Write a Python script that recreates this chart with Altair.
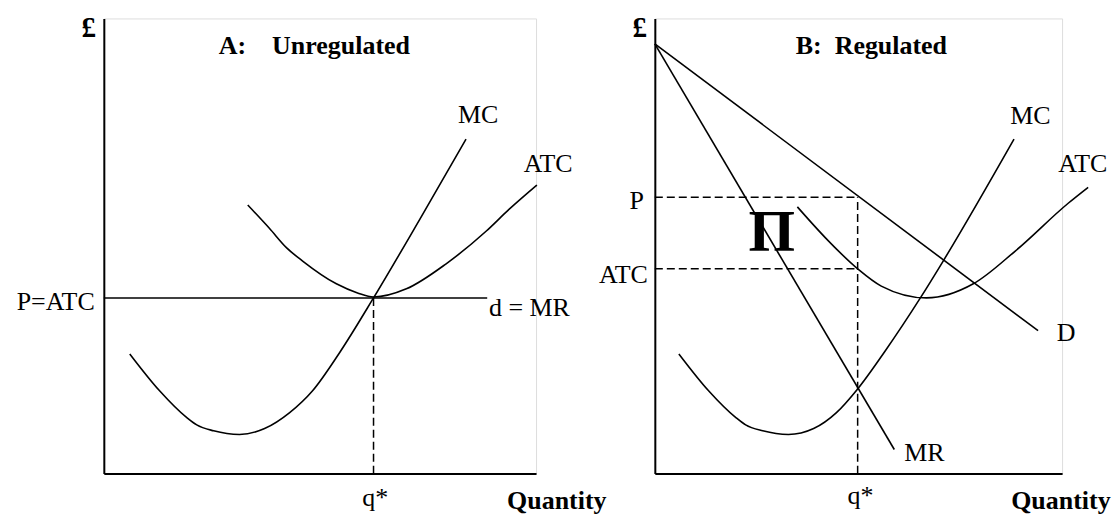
import altair as alt
import pandas as pd

FONT = "Liberation Serif"

# ---------------- Panel A : Unregulated ----------------
A_MC_Q = [6.0, 12.9, 19.2, 21.5, 25.4, 31.4, 37.2, 43.0, 48.3, 54.5, 62.4, 73.0, 83.8]
A_MC_P = [26.3, 18.2, 12.3, 10.7, 9.4, 8.6, 9.9, 13.4, 18.2, 26.5, 38.6, 55.7, 73.5]
A_ATC_Q = [33.3, 38.3, 42.3, 46.0, 53.8, 58.7, 62.4, 70.0, 79.2, 88.5, 93.8, 100.2]
A_ATC_P = [59.0, 53.9, 49.6, 46.7, 41.7, 39.7, 38.8, 40.6, 46.1, 53.3, 58.1, 63.4]
A_PRICE = 38.6          # P = ATC = d = MR
A_QSTAR = 62.4
A_DMR_END = 88.7

A_TXT = ["MC", "ATC", "q*"]
A_TXT_Q = [86.6, 102.8, 62.8]
A_TXT_P = [78.7, 68.0, -5.3]
A_LEFT_TXT = ["d = MR"]
A_LEFT_Q = [89.1]
A_LEFT_P = [36.4]
A_RIGHT_TXT = ["P=ATC"]
A_RIGHT_Q = [-2.1]
A_RIGHT_P = [37.7]
A_BOLD_TXT = ["£", "A:\u00a0\u00a0\u00a0\u00a0Unregulated", "Quantity"]
A_BOLD_Q = [-3.5, 26.6, 93.3]
A_BOLD_P = [98.0, 93.9, -6.1]
A_BOLD_ALIGN = ["center", "left", "left"]

# ---------------- Panel B : Regulated ----------------
B_D_Q = [0.0, 94.1]
B_D_P = [94.4, 31.4]
B_MR_Q = [0.0, 58.8]
B_MR_P = [94.4, 5.3]
B_MC_Q = [5.9, 13.2, 19.9, 22.3, 26.5, 32.8, 39.0, 44.6, 49.8, 56.6, 65.2, 70.8, 88.2]
B_MC_P = [26.3, 18.2, 12.3, 10.7, 9.4, 8.6, 9.9, 13.4, 18.6, 27.0, 38.6, 46.7, 73.5]
B_ATC_Q = [35.0, 41.9, 49.8, 55.6, 66.7, 78.2, 88.5, 101.5, 106.4]
B_ATC_P = [58.6, 51.8, 45.0, 41.2, 38.6, 41.7, 48.9, 59.4, 62.9]
B_PRICE = 60.7
B_ATC_LEVEL = 45.0
B_QSTAR = 49.8

B_TXT = ["MC", "ATC", "D", "MR", "q*"]
B_TXT_Q = [92.2, 105.1, 101.0, 66.2, 50.5]
B_TXT_P = [78.5, 68.0, 30.9, 4.6, -5.0]
B_RIGHT_TXT = ["P", "ATC"]
B_RIGHT_Q = [-2.7, -1.7]
B_RIGHT_P = [59.9, 43.6]
B_BOLD_TXT = ["£", "B:\u00a0\u00a0Regulated", "Quantity"]
B_BOLD_Q = [-3.7, 34.6, 87.5]
B_BOLD_P = [98.0, 93.9, -6.1]
B_BOLD_ALIGN = ["center", "left", "left"]
B_PROFIT_TXT = ["Π"]
B_PROFIT_Q = [28.7]
B_PROFIT_P = [52.9]

PLOT_H = 456
A_W = 433
B_W = 408

xs = alt.Scale(domain=[0, 100], nice=False, zero=False)
ys = alt.Scale(domain=[0, 100], nice=False, zero=False)
ax = alt.Axis(title=None, labels=False, ticks=False, grid=False, domain=True,
              domainColor="black", domainWidth=2)


def curve(qs, ps):
    df = pd.DataFrame({"q": qs, "p": ps})
    return alt.Chart(df).mark_line(interpolate="monotone", color="black", strokeWidth=1.6).encode(
        x=alt.X("q:Q", scale=xs, axis=ax), y=alt.Y("p:Q", scale=ys, axis=ax))


def straight(qs, ps):
    df = pd.DataFrame({"q": qs, "p": ps})
    return alt.Chart(df).mark_line(color="black", strokeWidth=1.6).encode(
        x=alt.X("q:Q", scale=xs, axis=ax), y=alt.Y("p:Q", scale=ys, axis=ax))


def rules(q, q2, p, p2, dashed):
    df = pd.DataFrame({"q": q, "q2": q2, "p": p, "p2": p2})
    kw = dict(color="black", strokeWidth=1.5)
    if dashed:
        kw["strokeDash"] = [8, 4]
    return alt.Chart(df).mark_rule(**kw).encode(
        x=alt.X("q:Q", scale=xs, axis=ax), x2="q2:Q",
        y=alt.Y("p:Q", scale=ys, axis=ax), y2="p2:Q")


def texts(ts, qs, ps, align="center", bold=False, size=26):
    df = pd.DataFrame({"t": ts, "q": qs, "p": ps})
    return alt.Chart(df).mark_text(font=FONT, fontSize=size, align=align, baseline="middle",
                                   fontWeight="bold" if bold else "normal", color="black").encode(
        x=alt.X("q:Q", scale=xs, axis=ax), y=alt.Y("p:Q", scale=ys, axis=ax), text="t:N")


def bold_texts(ts, qs, ps, aligns):
    layers = []
    for a in sorted(set(aligns)):
        idx = [i for i, v in enumerate(aligns) if v == a]
        sub = [ts[i] for i in idx]
        size = 29 if sub == ["£"] else 26
        layers.append(texts(sub, [qs[i] for i in idx], [ps[i] for i in idx],
                            align=a, bold=True, size=size))
    return layers


panel_a = alt.layer(
    rules([0], [A_DMR_END], [A_PRICE], [A_PRICE], False),
    rules([A_QSTAR], [A_QSTAR], [0], [A_PRICE], True),
    curve(A_MC_Q, A_MC_P),
    curve(A_ATC_Q, A_ATC_P),
    texts(A_TXT, A_TXT_Q, A_TXT_P),
    texts(A_LEFT_TXT, A_LEFT_Q, A_LEFT_P, align="left"),
    texts(A_RIGHT_TXT, A_RIGHT_Q, A_RIGHT_P, align="right"),
    *bold_texts(A_BOLD_TXT, A_BOLD_Q, A_BOLD_P, A_BOLD_ALIGN),
).properties(width=A_W, height=PLOT_H)

panel_b = alt.layer(
    rules([0, 0], [B_QSTAR, B_QSTAR], [B_PRICE, B_ATC_LEVEL], [B_PRICE, B_ATC_LEVEL], True),
    rules([B_QSTAR], [B_QSTAR], [0], [B_PRICE], True),
    straight(B_D_Q, B_D_P),
    straight(B_MR_Q, B_MR_P),
    curve(B_MC_Q, B_MC_P),
    curve(B_ATC_Q, B_ATC_P),
    texts(B_TXT, B_TXT_Q, B_TXT_P),
    texts(B_RIGHT_TXT, B_RIGHT_Q, B_RIGHT_P, align="right"),
    *bold_texts(B_BOLD_TXT, B_BOLD_Q, B_BOLD_P, B_BOLD_ALIGN),
    texts(B_PROFIT_TXT, B_PROFIT_Q, B_PROFIT_P, bold=True, size=60),
).properties(width=B_W, height=PLOT_H)

chart = alt.hconcat(panel_a, panel_b, spacing=119, bounds="flush").properties(
    padding={"left": 8, "top": 4, "right": 0, "bottom": 0}
).configure_view(strokeWidth=0).configure(background="white")

chart.save("out.html", embed_options={"renderer": "svg", "actions": False})
